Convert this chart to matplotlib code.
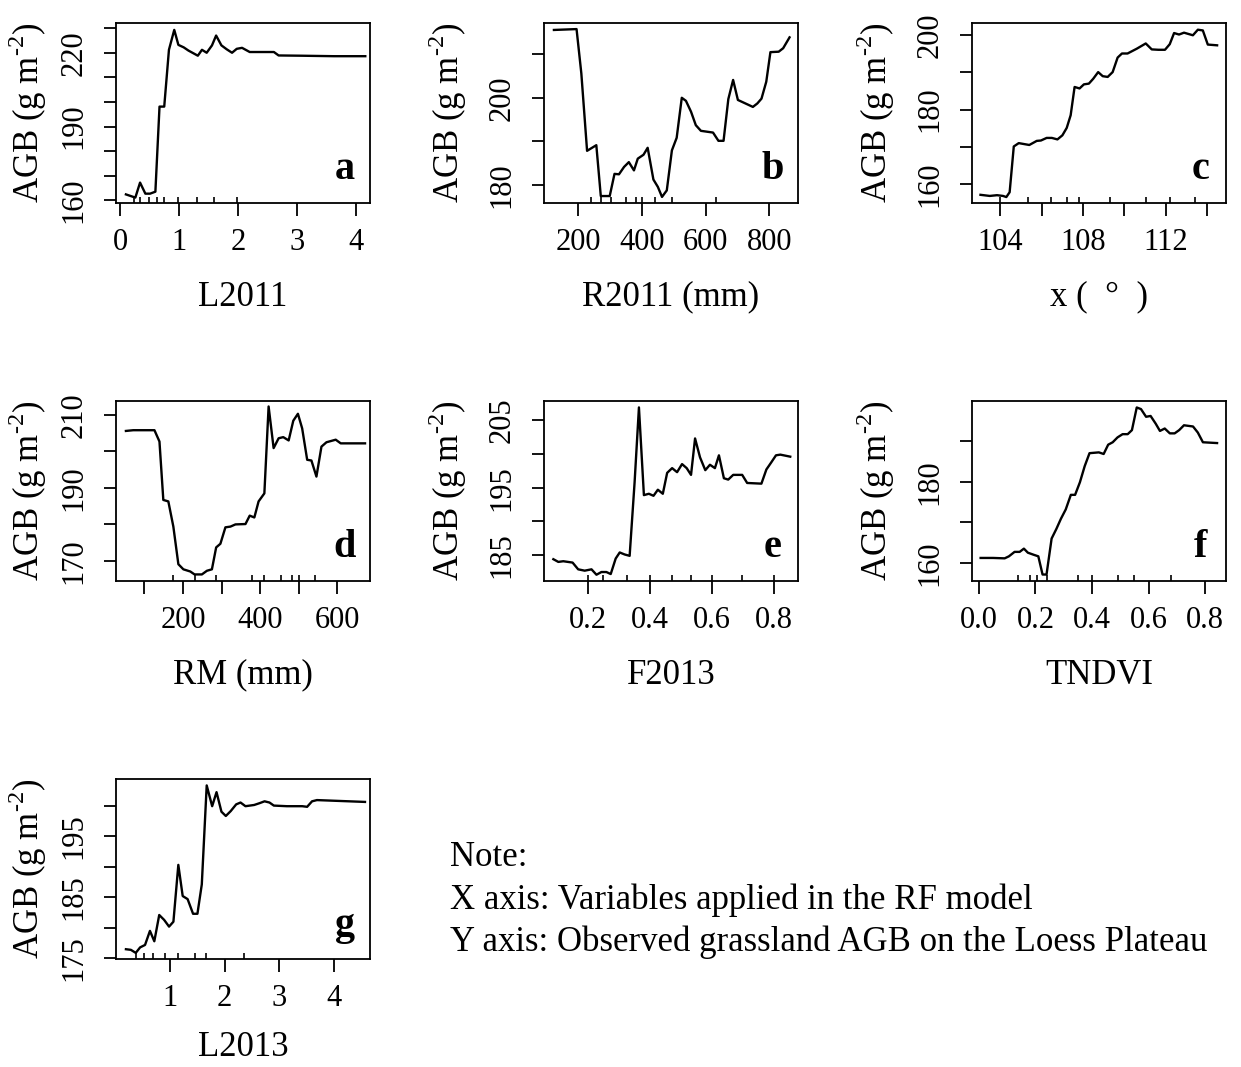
import numpy as np
import matplotlib
matplotlib.use("Agg")
import matplotlib.pyplot as plt

plt.rcParams['font.family'] = ['Liberation Serif', 'DejaVu Serif']
plt.rcParams['mathtext.fontset'] = 'custom'
plt.rcParams['mathtext.rm'] = 'Liberation Serif'

# ---- partial dependence curves ----
a_x = [0.10, 0.26, 0.34, 0.43, 0.51, 0.60, 0.67, 0.75, 0.83, 0.92, 0.99, 1.08, 1.16, 1.32, 1.39,
       1.47, 1.56, 1.63, 1.72, 1.81, 1.90, 1.98, 2.07, 2.20, 2.38, 2.61, 2.69, 3.06, 3.63, 4.16]
a_y = [162.4, 161.1, 167.2, 162.7, 162.7, 163.5, 198.1, 198.1, 221.2, 229.3, 223.2, 222.2, 220.9, 218.8, 221.2,
       220.0, 223.0, 227.0, 223.0, 221.4, 220.0, 221.6, 222.0, 220.3, 220.3, 220.3, 218.9, 218.8, 218.6, 218.6]
a_rug = [0.23, 0.34, 0.49, 0.62, 0.75, 0.99, 1.30, 1.60, 1.98]

b_x = [124, 195, 210, 228, 257, 271, 299, 314, 328, 344, 359, 375, 387, 405, 418, 436, 450, 463, 478, 494,
       509, 525, 538, 554, 569, 585, 623, 640, 656, 671, 686, 701, 748, 762, 775, 790, 803, 829, 843, 863]
b_y = [215.6, 215.8, 205.6, 187.8, 189.1, 177.4, 177.4, 182.5, 182.4, 184.1, 185.2, 183.3, 186.0, 186.9, 188.5,
       181.2, 179.5, 177.2, 178.7, 187.9, 190.8, 200.0, 199.3, 196.8, 193.7, 192.4, 192.0, 190.1, 190.1, 199.7,
       204.1, 199.5, 197.9, 198.7, 199.8, 203.7, 210.5, 210.6, 211.4, 213.9]
b_rug = [240, 271, 304, 351, 382, 400, 442, 494, 632]

c_x = [103.04, 103.49, 103.84, 104.13, 104.29, 104.45, 104.65, 104.89, 105.40, 105.76, 105.96, 106.24, 106.49,
       106.76, 107.00, 107.21, 107.40, 107.59, 107.83, 108.04, 108.28, 108.49, 108.73, 108.95, 109.19, 109.43,
       109.67, 109.88, 110.15, 110.60, 111.03, 111.32, 111.64, 111.96, 112.19, 112.40, 112.64, 112.88, 113.31,
       113.55, 113.79, 114.03, 114.48]
c_y = [157.1, 156.8, 157.0, 156.8, 156.5, 157.8, 170.1, 171.0, 170.5, 171.6, 171.7, 172.4, 172.4,
       172.0, 173.1, 175.1, 178.5, 186.1, 185.7, 186.8, 187.0, 188.3, 190.1, 189.0, 188.8, 190.1,
       194.0, 195.1, 195.1, 196.4, 197.8, 196.2, 196.1, 196.1, 197.6, 200.6, 200.2, 200.7, 200.0,
       201.5, 201.3, 197.5, 197.3]
c_rug = [104.0, 105.33, 106.44, 107.24, 107.8, 109.3, 111.04, 112.22, 113.42]

d_x = [52, 71, 126, 139, 149, 162, 175, 188, 201, 219, 230, 249, 262, 275, 286, 297, 310, 323, 336, 362,
       373, 385, 396, 411, 422, 435, 448, 460, 474, 486, 498, 509, 522, 533, 546, 559, 572, 596, 609, 672]
d_y = [205.6, 205.8, 205.8, 202.7, 186.7, 186.3, 179.4, 169.1, 167.7, 167.1, 166.3, 166.3, 167.3, 167.7, 173.7,
       174.7, 179.2, 179.4, 180.0, 180.1, 182.4, 181.9, 186.3, 188.5, 212.3, 200.9, 203.6, 203.9, 203.0, 208.4,
       210.3, 206.3, 197.7, 197.5, 193.1, 201.3, 202.5, 203.2, 202.2, 202.2]
d_rug = [174, 230, 286, 379, 409, 453, 483, 500, 542]

e_x = [0.088, 0.104, 0.120, 0.150, 0.168, 0.189, 0.211, 0.227, 0.243, 0.259, 0.273, 0.289, 0.302, 0.318,
       0.334, 0.350, 0.364, 0.380, 0.396, 0.411, 0.425, 0.441, 0.455, 0.471, 0.487, 0.503, 0.518, 0.532,
       0.545, 0.561, 0.578, 0.593, 0.609, 0.622, 0.638, 0.652, 0.668, 0.697, 0.713, 0.759, 0.775, 0.790,
       0.806, 0.820, 0.852]
e_y = [184.4, 184.0, 184.1, 183.9, 182.9, 182.7, 182.9, 182.1, 182.5, 182.5, 182.2, 184.5, 185.4, 185.1,
       184.9, 195.8, 206.9, 193.9, 194.1, 193.8, 194.7, 194.1, 197.2, 197.9, 197.3, 198.5, 197.9, 196.9,
       202.3, 199.5, 197.6, 198.4, 197.9, 199.8, 196.4, 196.2, 196.9, 196.9, 195.7, 195.6, 197.7, 198.7,
       199.8, 199.9, 199.6]
e_rug = [0.20, 0.248, 0.325, 0.40, 0.471, 0.532, 0.60, 0.697, 0.80]

f_x = [0.006, 0.050, 0.091, 0.106, 0.126, 0.144, 0.159, 0.173, 0.193, 0.210, 0.225, 0.239, 0.257, 0.274,
       0.290, 0.307, 0.325, 0.340, 0.357, 0.374, 0.391, 0.424, 0.441, 0.457, 0.473, 0.490, 0.508, 0.526,
       0.541, 0.558, 0.573, 0.591, 0.607, 0.625, 0.640, 0.657, 0.675, 0.692, 0.708, 0.725, 0.757, 0.774,
       0.792, 0.842]
f_y = [161.2, 161.2, 161.1, 161.6, 162.7, 162.7, 163.5, 162.5, 162.0, 161.6, 157.1, 157.1, 166.0, 168.4,
       170.9, 173.2, 176.8, 176.8, 179.9, 183.9, 187.1, 187.3, 186.9, 189.2, 189.8, 191.0, 191.8, 191.8,
       192.8, 198.4, 198.0, 196.1, 196.3, 194.4, 192.6, 193.2, 192.0, 192.0, 192.8, 194.0, 193.7, 192.2,
       189.8, 189.6]
f_rug = [0.138, 0.179, 0.206, 0.239, 0.35, 0.40, 0.49, 0.55, 0.68]

g_x = [0.19, 0.28, 0.37, 0.45, 0.54, 0.63, 0.71, 0.80, 0.89, 0.98, 1.06, 1.15, 1.23, 1.32, 1.42, 1.50, 1.58,
       1.67, 1.77, 1.85, 1.94, 2.02, 2.11, 2.21, 2.29, 2.38, 2.54, 2.64, 2.73, 2.82, 2.90, 3.14, 3.42, 3.51,
       3.60, 3.69, 4.57]
g_y = [176.5, 176.4, 175.9, 176.8, 177.2, 179.5, 177.8, 182.1, 181.3, 180.2, 181.0, 190.3, 185.2, 184.7,
       182.3, 182.3, 187.1, 203.3, 199.9, 202.2, 199.0, 198.3, 199.1, 200.2, 200.5, 199.9, 200.1, 200.4,
       200.7, 200.5, 200.0, 199.9, 199.9, 199.8, 200.7, 200.9, 200.6]
g_rug = [0.37, 0.53, 0.69, 0.91, 1.15, 1.45, 1.66, 2.36]

panels = [
    dict(x=a_x, y=a_y, rug=a_rug, letter='a', xlab='L2011',
         xlim=(-0.068, 4.24), ylim=(158.9, 232.1),
         xt=[0, 1, 2, 3, 4], xtl=['0', '1', '2', '3', '4'],
         yt=[160, 170, 180, 190, 200, 210, 220, 230], ytl=['160', '', '', '190', '', '', '220', '']),
    dict(x=b_x, y=b_y, rug=b_rug, letter='b', xlab='R2011 (mm)',
         xlim=(92.9, 889.5), ylim=(175.8, 217.2),
         xt=[200, 400, 600, 800], xtl=['200', '400', '600', '800'],
         yt=[180, 190, 200, 210], ytl=['180', '', '200', '']),
    dict(x=c_x, y=c_y, rug=c_rug, letter='c', xlab='x (  \u00b0  )',
         xlim=(102.63, 114.91), ylim=(154.9, 203.3),
         xt=[104, 106, 108, 110, 112, 114], xtl=['104', '', '108', '', '112', ''],
         yt=[160, 170, 180, 190, 200], ytl=['160', '', '180', '', '200']),
    dict(x=d_x, y=d_y, rug=d_rug, letter='d', xlab='RM (mm)',
         xlim=(26.3, 684.9), ylim=(164.5, 213.8),
         xt=[100, 200, 300, 400, 500, 600], xtl=['', '200', '', '400', '', '600'],
         yt=[170, 180, 190, 200, 210], ytl=['170', '', '190', '', '210']),
    dict(x=e_x, y=e_y, rug=e_rug, letter='e', xlab='F2013',
         xlim=(0.0578, 0.877), ylim=(181.17, 207.85),
         xt=[0.2, 0.4, 0.6, 0.8], xtl=['0.2', '0.4', '0.6', '0.8'],
         yt=[185, 190, 195, 200, 205], ytl=['185', '', '195', '', '205']),
    dict(x=f_x, y=f_y, rug=f_rug, letter='f', xlab='TNDVI',
         xlim=(-0.0245, 0.8736), ylim=(155.5, 200.0),
         xt=[0.0, 0.2, 0.4, 0.6, 0.8], xtl=['0.0', '0.2', '0.4', '0.6', '0.8'],
         yt=[160, 170, 180, 190], ytl=['160', '', '180', '']),
    dict(x=g_x, y=g_y, rug=g_rug, letter='g', xlab='L2013',
         xlim=(0.008, 4.662), ylim=(174.9, 204.35),
         xt=[1, 2, 3, 4], xtl=['1', '2', '3', '4'],
         yt=[175, 180, 185, 190, 195, 200], ytl=['175', '', '185', '', '195', '']),
]

note_lines = ['Note:',
              'X axis: Variables applied in the RF model',
              'Y axis: Observed grassland AGB on the Loess Plateau']

W, H = 1241, 1067
fig = plt.figure(figsize=(W / 100, H / 100), dpi=100)
lefts = [116, 544, 972]
tops = [23, 401, 779]
pw, ph = 254, 180
ylab_off = [-88, -96, -96]
xlab_off = [-94, -94, -88]

for i, p in enumerate(panels):
    r, c = divmod(i, 3)
    ax = fig.add_axes([lefts[c] / W, 1 - (tops[r] + ph) / H, pw / W, ph / H])
    ax.plot(p['x'], p['y'], color='black', lw=1.7)
    ax.vlines(p['rug'], 0, 0.035, transform=ax.get_xaxis_transform(), color='black', lw=1.2)
    ax.set_xlim(p['xlim'])
    ax.set_ylim(p['ylim'])
    ax.set_xticks(p['xt'])
    ax.set_xticklabels(p['xtl'], fontsize=22)
    ax.set_yticks(p['yt'])
    ax.set_yticklabels(p['ytl'], fontsize=22, rotation=90, va='center')
    ax.tick_params(length=9, width=1.3)
    ax.tick_params(axis='x', pad=9)
    ax.tick_params(axis='y', pad=11)
    for s in ax.spines.values():
        s.set_linewidth(1.3)
    ax.set_xlabel(p['xlab'], fontsize=25)
    ax.xaxis.set_label_coords(0.5, xlab_off[r] / ph)
    ax.xaxis.label.set_va('center')
    ax.set_ylabel('AGB (g m$^{\\mathregular{\u20102}}$)', fontsize=25, va='center')
    ax.yaxis.set_label_coords(ylab_off[c] / pw, 0.5)
    ax.text(0.9, 0.135, p['letter'], transform=ax.transAxes, fontsize=29,
            fontweight='bold', ha='center', va='baseline')

for k, line in enumerate(note_lines):
    fig.text(450 / W, 1 - (858 + 42 * k) / H, line, fontsize=25, ha='left', va='center')

fig.savefig('out.png', dpi=100)
